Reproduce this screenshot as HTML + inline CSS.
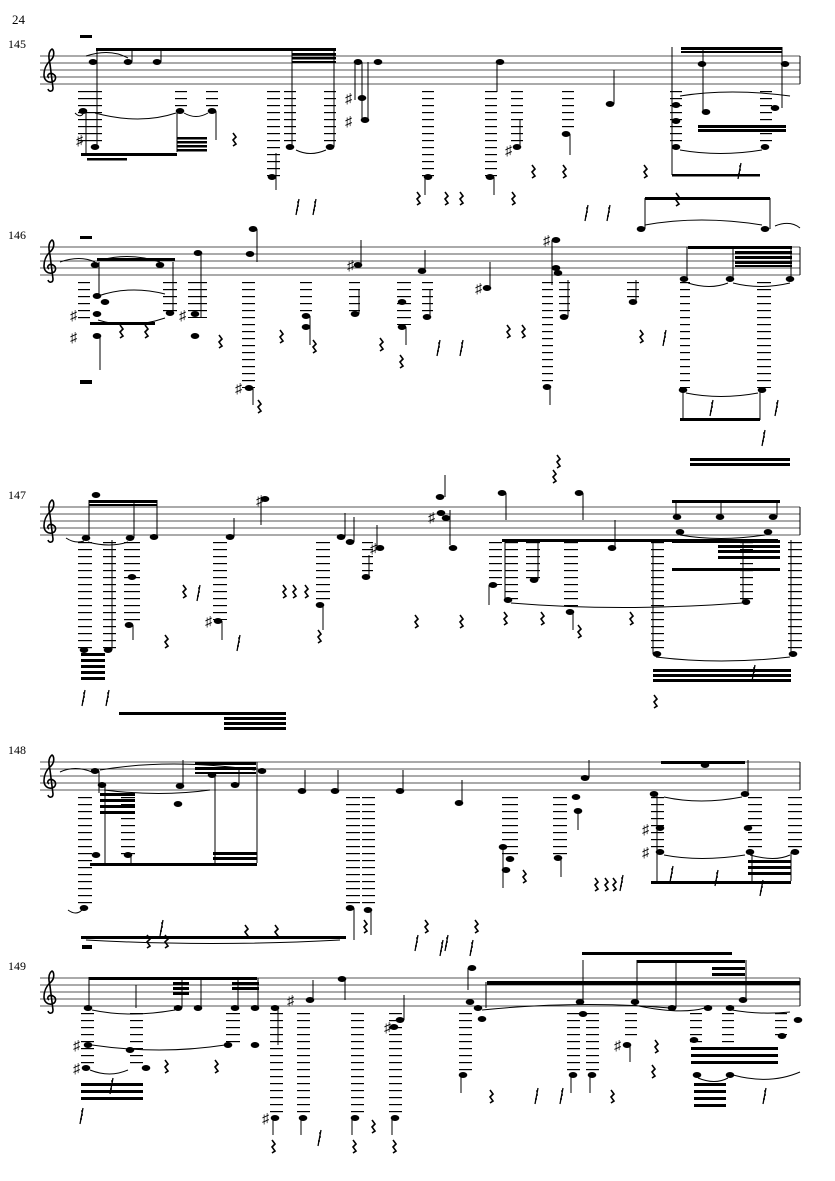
<!DOCTYPE html>
<html><head><meta charset="utf-8"><style>
html,body{margin:0;padding:0;background:#fff;}
svg{display:block;}
text{font-family:"Liberation Serif",serif;font-size:12px;fill:#000;}
</style></head><body>
<svg width="835" height="1181" viewBox="0 0 835 1181" xmlns="http://www.w3.org/2000/svg">
<defs>
<pattern id="L1" patternUnits="userSpaceOnUse" x="0" y="0" width="40" height="7"><rect x="0" y="0" width="40" height="1.2" fill="#000"/></pattern>
<pattern id="L2" patternUnits="userSpaceOnUse" x="0" y="2" width="40" height="7"><rect x="0" y="0" width="40" height="1.2" fill="#000"/></pattern>
<pattern id="L3" patternUnits="userSpaceOnUse" x="0" y="3" width="40" height="7"><rect x="0" y="0" width="40" height="1.2" fill="#000"/></pattern>
<pattern id="L4" patternUnits="userSpaceOnUse" x="0" y="6" width="40" height="7"><rect x="0" y="0" width="40" height="1.2" fill="#000"/></pattern>
<pattern id="L5" patternUnits="userSpaceOnUse" x="0" y="5" width="40" height="7"><rect x="0" y="0" width="40" height="1.2" fill="#000"/></pattern>
<g id="clef"><path d="M11 -6 C6 -2 4 4 4 9 C4 14 8 17 12 16 C16 15 17 10 13 8 C9 6 6 10 9 12 M11 -6 C15 -10 14 -16 12 -17 C9 -15 8 -10 10 -2 L13 22 C13 26 9 26 8 23" fill="none" stroke="#000" stroke-width="1.6"/></g>
<path id="r" d="M0 0 L3 4 L0 7 L3 11 L0 13" fill="none" stroke="#000" stroke-width="1.6"/>
<path id="r16" d="M3 0 L0 16 M1 3 h2 M1 7 h2 M0 11 h2" fill="none" stroke="#000" stroke-width="1.3"/>
</defs>

<text x="12" y="24" style="font-size:13px">24</text>

<!-- staves -->
<g stroke="#555" stroke-width="1">
<path d="M40 56H800M40 63H800M40 70H800M40 77H800M40 84H800"/>
<path d="M40 247H800M40 254H800M40 261H800M40 268H800M40 275H800"/>
<path d="M40 507H800M40 514H800M40 521H800M40 528H800M40 535H800"/>
<path d="M40 762H800M40 769H800M40 776H800M40 783H800M40 790H800"/>
<path d="M40 978H800M40 985H800M40 992H800M40 999H800M40 1006H800"/>
</g>
<g stroke="#000" stroke-width="1"><path d="M800 56V84M800 247V275M800 507V535M800 762V790M800 978V1006"/></g>
<text x="8" y="48">145</text><text x="8" y="239">146</text><text x="8" y="499">147</text><text x="8" y="754">148</text><text x="8" y="970">149</text>
<use href="#clef" x="40" y="66"/><use href="#clef" x="40" y="257"/><use href="#clef" x="40" y="517"/><use href="#clef" x="40" y="772"/><use href="#clef" x="40" y="988"/>

<!-- ===== SYSTEM 1 ===== -->
<g fill="url(#L1)">
<rect x="78" y="90" width="24" height="57"/><rect x="175" y="90" width="12" height="21"/><rect x="206" y="90" width="12" height="21"/>
<rect x="267" y="90" width="13" height="87"/><rect x="284" y="90" width="12" height="57"/><rect x="324" y="90" width="12" height="57"/>
<rect x="422" y="90" width="12" height="87"/><rect x="485" y="90" width="12" height="87"/><rect x="511" y="90" width="12" height="57"/>
<rect x="562" y="90" width="12" height="43"/><rect x="670" y="90" width="12" height="57"/><rect x="760" y="90" width="12" height="57"/>
</g>
<g fill="#000">
<rect x="80" y="35" width="12" height="3"/>
<rect x="96" y="48" width="240" height="3"/><rect x="292" y="53" width="44" height="2.5"/><rect x="292" y="57" width="44" height="2.5"/><rect x="292" y="61" width="44" height="2"/>
<rect x="81" y="153" width="96" height="3"/><rect x="87" y="158" width="40" height="2.5"/>
<rect x="177" y="137" width="30" height="2.5"/><rect x="177" y="141" width="30" height="2.5"/><rect x="177" y="145" width="30" height="2.5"/><rect x="177" y="149" width="30" height="2.5"/>
<rect x="681" y="47" width="101" height="3"/><rect x="681" y="51" width="101" height="2"/>
<rect x="698" y="125" width="88" height="3"/><rect x="698" y="129" width="88" height="3"/>
<rect x="672" y="174" width="88" height="2.5"/><rect x="645" y="197" width="125" height="3"/>
<ellipse cx="93" cy="62" rx="4.3" ry="3"/><ellipse cx="128" cy="62" rx="4.3" ry="3"/><ellipse cx="157" cy="62" rx="4.3" ry="3"/>
<ellipse cx="83" cy="111" rx="4.3" ry="3"/><ellipse cx="95" cy="147" rx="4.3" ry="3"/><ellipse cx="180" cy="111" rx="4.3" ry="3"/><ellipse cx="212" cy="111" rx="4.3" ry="3"/>
<ellipse cx="272" cy="177" rx="4.3" ry="3"/><ellipse cx="290" cy="147" rx="4.3" ry="3"/><ellipse cx="330" cy="147" rx="4.3" ry="3"/>
<ellipse cx="358" cy="62" rx="4.3" ry="3"/><ellipse cx="378" cy="62" rx="4.3" ry="3"/><ellipse cx="362" cy="98" rx="4.3" ry="3"/><ellipse cx="365" cy="120" rx="4.3" ry="3"/>
<ellipse cx="428" cy="177" rx="4.3" ry="3"/><ellipse cx="490" cy="177" rx="4.3" ry="3"/><ellipse cx="500" cy="62" rx="4.3" ry="3"/>
<ellipse cx="517" cy="147" rx="4.3" ry="3"/><ellipse cx="566" cy="134" rx="4.3" ry="3"/><ellipse cx="610" cy="104" rx="4.3" ry="3"/>
<ellipse cx="676" cy="105" rx="4.3" ry="3"/><ellipse cx="676" cy="121" rx="4.3" ry="3"/><ellipse cx="676" cy="147" rx="4.3" ry="3"/>
<ellipse cx="702" cy="64" rx="4.3" ry="3"/><ellipse cx="706" cy="112" rx="4.3" ry="3"/><ellipse cx="775" cy="108" rx="4.3" ry="3"/><ellipse cx="785" cy="64" rx="4.3" ry="3"/>
<ellipse cx="765" cy="147" rx="4.3" ry="3"/><ellipse cx="641" cy="229" rx="4.3" ry="3"/><ellipse cx="765" cy="229" rx="4.3" ry="3"/>
</g>
<g stroke="#000" stroke-width="1" fill="none">
<path d="M97 50V147M132 50V62M161 50V62M177 111V152M216 111V140M276 153V190M86 111V155"/>
<path d="M292 50V147M334 50V147M355 62V100M362 62V120M368 62V120M425 177V195M494 177V195M497 62V92"/>
<path d="M520 147V120M570 134V155M614 104V70M672 47V175M703 47V112M782 47V108M645 198V229M770 198V229"/>
<path d="M86 56Q110 48 128 58M75 113Q80 118 83 114M95 113Q140 125 176 113M184 113Q196 120 208 113M296 150Q310 157 326 150M680 96Q730 88 790 96M680 150Q720 157 762 150M645 225Q700 215 762 225M800 228Q790 220 775 226"/>
</g>
<g><use href="#r" x="233" y="133"/><use href="#r" x="417" y="192"/><use href="#r" x="445" y="192"/><use href="#r" x="460" y="192"/><use href="#r" x="512" y="192"/><use href="#r" x="532" y="165"/><use href="#r" x="563" y="165"/><use href="#r" x="644" y="165"/><use href="#r" x="676" y="193"/>
<use href="#r16" x="296" y="199"/><use href="#r16" x="313" y="199"/><use href="#r16" x="585" y="205"/><use href="#r16" x="607" y="205"/><use href="#r16" x="738" y="163"/></g>
<text x="76" y="145" style="font-size:14px">♯</text><text x="345" y="103" style="font-size:14px">♯</text><text x="345" y="126" style="font-size:14px">♯</text><text x="505" y="155" style="font-size:14px">♯</text>

<!-- ===== SYSTEM 2 ===== -->
<g fill="url(#L2)">
<rect x="78" y="280" width="12" height="43"/><rect x="163" y="280" width="14" height="33"/><rect x="188" y="280" width="19" height="38"/>
<rect x="242" y="280" width="13" height="108"/><rect x="300" y="280" width="12" height="37"/><rect x="349" y="280" width="11" height="34"/>
<rect x="397" y="280" width="14" height="45"/><rect x="422" y="280" width="11" height="37"/><rect x="542" y="280" width="11" height="107"/>
<rect x="559" y="280" width="11" height="37"/><rect x="627" y="280" width="12" height="22"/><rect x="680" y="280" width="10" height="108"/><rect x="757" y="280" width="14" height="108"/>
</g>
<g fill="#000">
<rect x="80" y="236" width="12" height="3"/><rect x="80" y="380" width="12" height="4"/>
<rect x="97" y="258" width="78" height="3"/><rect x="90" y="322" width="65" height="3"/>
<rect x="688" y="246" width="104" height="3"/><rect x="735" y="251" width="57" height="3"/><rect x="735" y="256" width="57" height="3"/><rect x="735" y="261" width="57" height="3"/><rect x="735" y="265" width="57" height="2"/>
<rect x="680" y="418" width="80" height="3"/>
<rect x="690" y="458" width="100" height="3"/><rect x="690" y="463" width="100" height="3"/>
<ellipse cx="97" cy="296" rx="4.3" ry="3"/><ellipse cx="105" cy="302" rx="4.3" ry="3"/><ellipse cx="97" cy="314" rx="4.3" ry="3"/><ellipse cx="97" cy="336" rx="4.3" ry="3"/><ellipse cx="95" cy="265" rx="4.3" ry="3"/>
<ellipse cx="160" cy="265" rx="4.3" ry="3"/><ellipse cx="170" cy="313" rx="4.3" ry="3"/><ellipse cx="195" cy="314" rx="4.3" ry="3"/><ellipse cx="195" cy="336" rx="4.3" ry="3"/><ellipse cx="198" cy="253" rx="4.3" ry="3"/>
<ellipse cx="250" cy="254" rx="4.3" ry="3"/><ellipse cx="253" cy="229" rx="4.3" ry="3"/><ellipse cx="249" cy="388" rx="4.3" ry="3"/>
<ellipse cx="306" cy="316" rx="4.3" ry="3"/><ellipse cx="306" cy="327" rx="4.3" ry="3"/><ellipse cx="358" cy="265" rx="4.3" ry="3"/><ellipse cx="355" cy="314" rx="4.3" ry="3"/>
<ellipse cx="402" cy="302" rx="4.3" ry="3"/><ellipse cx="402" cy="327" rx="4.3" ry="3"/><ellipse cx="422" cy="271" rx="4.3" ry="3"/><ellipse cx="427" cy="317" rx="4.3" ry="3"/>
<ellipse cx="487" cy="288" rx="4.3" ry="3"/><ellipse cx="547" cy="387" rx="4.3" ry="3"/><ellipse cx="556" cy="240" rx="4.3" ry="3"/><ellipse cx="556" cy="268" rx="4.3" ry="3"/><ellipse cx="558" cy="273" rx="4.3" ry="3"/><ellipse cx="564" cy="317" rx="4.3" ry="3"/>
<ellipse cx="633" cy="302" rx="4.3" ry="3"/><ellipse cx="684" cy="279" rx="4.3" ry="3"/><ellipse cx="730" cy="279" rx="4.3" ry="3"/><ellipse cx="790" cy="279" rx="4.3" ry="3"/>
<ellipse cx="683" cy="390" rx="4.3" ry="3"/><ellipse cx="762" cy="390" rx="4.3" ry="3"/>
</g>
<g stroke="#000" stroke-width="1" fill="none">
<path d="M99 296V262M173 262V313M201 254V318M257 229V262M253 388V405M310 316V345M361 265V240M359 314V290M406 327V345M425 271V250M430 317V290"/>
<path d="M490 288V262M550 387V405M552 240V285M568 317V280M636 302V280M687 247V279M733 247V279M791 247V279M683 390V420M760 390V420M100 336V370"/>
<path d="M60 262Q80 255 95 262M101 260Q130 252 160 262M98 296Q130 285 165 294M98 320Q130 330 165 318M688 283Q710 290 728 283M733 283Q760 290 790 283M686 393Q720 400 758 393"/>
</g>
<g><use href="#r" x="120" y="325"/><use href="#r" x="145" y="325"/><use href="#r" x="219" y="335"/><use href="#r" x="280" y="330"/><use href="#r" x="313" y="340"/><use href="#r" x="380" y="338"/><use href="#r" x="400" y="355"/><use href="#r" x="507" y="325"/><use href="#r" x="522" y="325"/><use href="#r" x="640" y="330"/><use href="#r" x="258" y="400"/><use href="#r" x="557" y="455"/>
<use href="#r16" x="437" y="340"/><use href="#r16" x="460" y="340"/><use href="#r16" x="663" y="330"/><use href="#r16" x="710" y="400"/><use href="#r16" x="775" y="400"/><use href="#r16" x="762" y="430"/></g>
<text x="70" y="320" style="font-size:14px">♯</text><text x="70" y="342" style="font-size:14px">♯</text><text x="179" y="320" style="font-size:14px">♯</text><text x="235" y="393" style="font-size:14px">♯</text><text x="347" y="270" style="font-size:14px">♯</text><text x="475" y="293" style="font-size:14px">♯</text><text x="543" y="245" style="font-size:14px">♯</text>

<!-- ===== SYSTEM 3 ===== -->
<g fill="url(#L3)">
<rect x="78" y="542" width="14" height="108"/><rect x="103" y="542" width="13" height="108"/><rect x="124" y="542" width="16" height="83"/>
<rect x="213" y="542" width="14" height="78"/><rect x="316" y="542" width="14" height="63"/><rect x="362" y="542" width="11" height="35"/>
<rect x="489" y="542" width="13" height="43"/><rect x="505" y="542" width="13" height="58"/><rect x="526" y="542" width="14" height="38"/>
<rect x="564" y="542" width="14" height="68"/><rect x="651" y="542" width="13" height="111"/><rect x="740" y="542" width="13" height="60"/><rect x="788" y="542" width="14" height="111"/>
</g>
<g fill="#000">
<rect x="89" y="500" width="68" height="3"/><rect x="89" y="504" width="68" height="2"/>
<rect x="81" y="653" width="24" height="3"/><rect x="81" y="659" width="24" height="3"/><rect x="81" y="665" width="24" height="3"/><rect x="81" y="671" width="24" height="3"/><rect x="81" y="677" width="24" height="3"/>
<rect x="119" y="712" width="167" height="3"/><rect x="224" y="717" width="62" height="3"/><rect x="224" y="722" width="62" height="3"/><rect x="224" y="727" width="62" height="3"/>
<rect x="502" y="539" width="276" height="3"/>
<rect x="672" y="500" width="108" height="3"/><rect x="672" y="540" width="108" height="3"/><rect x="718" y="545" width="62" height="3"/><rect x="718" y="550" width="62" height="3"/><rect x="718" y="556" width="62" height="3"/><rect x="672" y="568" width="108" height="3"/>
<rect x="653" y="669" width="138" height="3"/><rect x="653" y="674" width="138" height="3"/><rect x="653" y="679" width="138" height="3"/>
<ellipse cx="86" cy="538" rx="4.3" ry="3"/><ellipse cx="130" cy="538" rx="4.3" ry="3"/><ellipse cx="154" cy="537" rx="4.3" ry="3"/><ellipse cx="96" cy="495" rx="4.3" ry="3"/>
<ellipse cx="84" cy="650" rx="4.3" ry="3"/><ellipse cx="108" cy="650" rx="4.3" ry="3"/><ellipse cx="132" cy="577" rx="4.3" ry="3"/><ellipse cx="129" cy="625" rx="4.3" ry="3"/>
<ellipse cx="230" cy="537" rx="4.3" ry="3"/><ellipse cx="265" cy="499" rx="4.3" ry="3"/><ellipse cx="218" cy="621" rx="4.3" ry="3"/>
<ellipse cx="341" cy="537" rx="4.3" ry="3"/><ellipse cx="350" cy="542" rx="4.3" ry="3"/><ellipse cx="320" cy="605" rx="4.3" ry="3"/><ellipse cx="380" cy="548" rx="4.3" ry="3"/><ellipse cx="366" cy="577" rx="4.3" ry="3"/>
<ellipse cx="440" cy="497" rx="4.3" ry="3"/><ellipse cx="441" cy="513" rx="4.3" ry="3"/><ellipse cx="446" cy="518" rx="4.3" ry="3"/><ellipse cx="453" cy="548" rx="4.3" ry="3"/>
<ellipse cx="502" cy="493" rx="4.3" ry="3"/><ellipse cx="579" cy="493" rx="4.3" ry="3"/><ellipse cx="493" cy="585" rx="4.3" ry="3"/><ellipse cx="508" cy="600" rx="4.3" ry="3"/><ellipse cx="534" cy="580" rx="4.3" ry="3"/>
<ellipse cx="570" cy="612" rx="4.3" ry="3"/><ellipse cx="612" cy="548" rx="4.3" ry="3"/><ellipse cx="657" cy="654" rx="4.3" ry="3"/>
<ellipse cx="677" cy="517" rx="4.3" ry="3"/><ellipse cx="680" cy="532" rx="4.3" ry="3"/><ellipse cx="720" cy="517" rx="4.3" ry="3"/><ellipse cx="773" cy="517" rx="4.3" ry="3"/><ellipse cx="768" cy="532" rx="4.3" ry="3"/>
<ellipse cx="746" cy="602" rx="4.3" ry="3"/><ellipse cx="793" cy="654" rx="4.3" ry="3"/>
</g>
<g stroke="#000" stroke-width="1" fill="none">
<path d="M89 538V500M134 538V500M157 537V500M112 650V540M133 625V640M234 537V518M261 499V525M222 621V640"/>
<path d="M345 537V513M354 542V517M323 605V630M377 548V525M369 577V555M450 510V545M445 497V475"/>
<path d="M506 493V520M583 493V520M489 585V605M505 600V540M538 580V540M573 612V630M615 548V520M653 654V540M676 517V500M721 517V500M777 517V500M743 602V540M791 654V540"/>
<path d="M66 538Q75 544 84 541M88 542Q110 548 128 542M656 657Q720 665 790 657M680 535Q720 542 765 535M511 603Q620 612 742 603"/>
</g>
<g><use href="#r" x="183" y="585"/><use href="#r" x="165" y="635"/><use href="#r" x="283" y="585"/><use href="#r" x="293" y="585"/><use href="#r" x="305" y="585"/><use href="#r" x="318" y="630"/><use href="#r" x="415" y="615"/><use href="#r" x="460" y="615"/><use href="#r" x="504" y="612"/><use href="#r" x="541" y="612"/><use href="#r" x="578" y="625"/><use href="#r" x="630" y="612"/><use href="#r" x="654" y="695"/><use href="#r" x="553" y="470"/>
<use href="#r16" x="197" y="585"/><use href="#r16" x="237" y="635"/><use href="#r16" x="82" y="690"/><use href="#r16" x="106" y="690"/><use href="#r16" x="752" y="665"/></g>
<text x="205" y="626" style="font-size:14px">♯</text><text x="370" y="553" style="font-size:14px">♯</text><text x="428" y="522" style="font-size:14px">♯</text><text x="256" y="505" style="font-size:14px">♯</text>

<!-- ===== SYSTEM 4 ===== -->
<g fill="url(#L4)">
<rect x="78" y="795" width="14" height="113"/><rect x="121" y="795" width="14" height="60"/><rect x="346" y="795" width="14" height="113"/><rect x="362" y="795" width="13" height="113"/>
<rect x="502" y="795" width="16" height="65"/><rect x="553" y="795" width="14" height="62"/><rect x="651" y="795" width="13" height="58"/><rect x="748" y="795" width="14" height="58"/><rect x="788" y="795" width="14" height="58"/>
</g>
<g fill="#000">
<rect x="100" y="793" width="35" height="3"/><rect x="100" y="799" width="35" height="3"/><rect x="100" y="805" width="35" height="3"/><rect x="100" y="811" width="35" height="3"/>
<rect x="195" y="762" width="61" height="3"/><rect x="195" y="767" width="61" height="3"/><rect x="195" y="772" width="61" height="2"/>
<rect x="90" y="863" width="167" height="3"/><rect x="213" y="852" width="44" height="3"/><rect x="213" y="857" width="44" height="3"/>
<rect x="81" y="936" width="265" height="3"/><rect x="82" y="945" width="10" height="4"/>
<rect x="661" y="761" width="84" height="3"/><rect x="748" y="860" width="43" height="3"/><rect x="748" y="866" width="43" height="3"/><rect x="748" y="872" width="43" height="3"/><rect x="651" y="881" width="140" height="3"/>
<rect x="582" y="952" width="150" height="3"/>
<ellipse cx="95" cy="771" rx="4.3" ry="3"/><ellipse cx="102" cy="785" rx="4.3" ry="3"/><ellipse cx="180" cy="786" rx="4.3" ry="3"/><ellipse cx="212" cy="775" rx="4.3" ry="3"/><ellipse cx="235" cy="785" rx="4.3" ry="3"/><ellipse cx="262" cy="771" rx="4.3" ry="3"/>
<ellipse cx="84" cy="908" rx="4.3" ry="3"/><ellipse cx="96" cy="855" rx="4.3" ry="3"/><ellipse cx="128" cy="855" rx="4.3" ry="3"/><ellipse cx="178" cy="804" rx="4.3" ry="3"/>
<ellipse cx="302" cy="791" rx="4.3" ry="3"/><ellipse cx="335" cy="791" rx="4.3" ry="3"/><ellipse cx="400" cy="791" rx="4.3" ry="3"/><ellipse cx="459" cy="803" rx="4.3" ry="3"/>
<ellipse cx="350" cy="908" rx="4.3" ry="3"/><ellipse cx="368" cy="910" rx="4.3" ry="3"/><ellipse cx="503" cy="847" rx="4.3" ry="3"/><ellipse cx="510" cy="859" rx="4.3" ry="3"/><ellipse cx="506" cy="870" rx="4.3" ry="3"/>
<ellipse cx="558" cy="858" rx="4.3" ry="3"/><ellipse cx="585" cy="778" rx="4.3" ry="3"/><ellipse cx="576" cy="797" rx="4.3" ry="3"/><ellipse cx="578" cy="811" rx="4.3" ry="3"/>
<ellipse cx="654" cy="794" rx="4.3" ry="3"/><ellipse cx="660" cy="828" rx="4.3" ry="3"/><ellipse cx="660" cy="852" rx="4.3" ry="3"/><ellipse cx="745" cy="794" rx="4.3" ry="3"/><ellipse cx="748" cy="828" rx="4.3" ry="3"/><ellipse cx="750" cy="852" rx="4.3" ry="3"/><ellipse cx="795" cy="852" rx="4.3" ry="3"/><ellipse cx="705" cy="765" rx="4.3" ry="3"/>
</g>
<g stroke="#000" stroke-width="1" fill="none">
<path d="M99 771V793M105 785V865M131 855V865M183 786V760M215 775V865M239 785V770M257 762V863M305 791V770M338 791V770M403 791V770M462 803V780"/>
<path d="M503 847V888M561 858V877M354 908V940M371 910V935M589 778V760M578 811V830M657 794V881M748 794V760M752 852V881M791 852V881"/>
<path d="M60 772Q75 765 92 772M100 770Q170 758 255 770M104 790Q160 797 210 790M68 910Q76 916 82 910M86 940Q210 947 340 940M664 797Q700 805 742 797M664 855Q700 862 745 855M750 855Q775 862 790 855"/>
</g>
<g><use href="#r" x="147" y="935"/><use href="#r" x="165" y="935"/><use href="#r" x="245" y="925"/><use href="#r" x="275" y="925"/><use href="#r" x="364" y="920"/><use href="#r" x="425" y="920"/><use href="#r" x="475" y="920"/><use href="#r" x="523" y="870"/><use href="#r" x="595" y="878"/><use href="#r" x="605" y="878"/><use href="#r" x="613" y="878"/>
<use href="#r16" x="160" y="920"/><use href="#r16" x="415" y="935"/><use href="#r16" x="445" y="935"/><use href="#r16" x="620" y="875"/><use href="#r16" x="715" y="870"/><use href="#r16" x="760" y="880"/><use href="#r16" x="670" y="866"/></g>
<text x="642" y="834" style="font-size:14px">♯</text><text x="642" y="857" style="font-size:14px">♯</text>

<!-- ===== SYSTEM 5 ===== -->
<g fill="url(#L5)">
<rect x="81" y="1010" width="13" height="58"/><rect x="130" y="1010" width="13" height="58"/><rect x="226" y="1010" width="14" height="35"/>
<rect x="270" y="1010" width="13" height="108"/><rect x="297" y="1010" width="13" height="108"/><rect x="351" y="1010" width="13" height="108"/><rect x="389" y="1010" width="13" height="108"/>
<rect x="459" y="1010" width="13" height="65"/><rect x="567" y="1010" width="13" height="65"/><rect x="586" y="1010" width="13" height="65"/><rect x="625" y="1010" width="12" height="30"/>
<rect x="690" y="1010" width="12" height="35"/><rect x="722" y="1010" width="12" height="35"/><rect x="775" y="1010" width="12" height="30"/>
</g>
<g fill="#000">
<rect x="89" y="977" width="168" height="3"/><rect x="173" y="982" width="16" height="3"/><rect x="173" y="987" width="16" height="3"/><rect x="173" y="992" width="16" height="3"/><rect x="232" y="982" width="27" height="3"/><rect x="232" y="987" width="27" height="3"/>
<rect x="81" y="1083" width="62" height="3"/><rect x="81" y="1090" width="62" height="3"/><rect x="81" y="1097" width="62" height="3"/>
<rect x="487" y="981" width="313" height="4"/><rect x="637" y="960" width="108" height="3"/><rect x="712" y="967" width="33" height="3"/><rect x="712" y="973" width="33" height="3"/>
<rect x="691" y="1047" width="87" height="3"/><rect x="691" y="1054" width="87" height="3"/><rect x="691" y="1061" width="87" height="3"/>
<rect x="694" y="1083" width="32" height="3"/><rect x="694" y="1090" width="32" height="3"/><rect x="694" y="1097" width="32" height="3"/><rect x="694" y="1104" width="32" height="3"/>
<ellipse cx="88" cy="1008" rx="4.3" ry="3"/><ellipse cx="178" cy="1008" rx="4.3" ry="3"/><ellipse cx="198" cy="1008" rx="4.3" ry="3"/><ellipse cx="235" cy="1008" rx="4.3" ry="3"/><ellipse cx="255" cy="1008" rx="4.3" ry="3"/>
<ellipse cx="275" cy="1008" rx="4.3" ry="3"/><ellipse cx="310" cy="1000" rx="4.3" ry="3"/><ellipse cx="342" cy="979" rx="4.3" ry="3"/><ellipse cx="400" cy="1020" rx="4.3" ry="3"/><ellipse cx="394" cy="1027" rx="4.3" ry="3"/>
<ellipse cx="88" cy="1045" rx="4.3" ry="3"/><ellipse cx="86" cy="1068" rx="4.3" ry="3"/><ellipse cx="130" cy="1050" rx="4.3" ry="3"/><ellipse cx="146" cy="1068" rx="4.3" ry="3"/><ellipse cx="228" cy="1045" rx="4.3" ry="3"/><ellipse cx="255" cy="1045" rx="4.3" ry="3"/>
<ellipse cx="275" cy="1118" rx="4.3" ry="3"/><ellipse cx="303" cy="1118" rx="4.3" ry="3"/><ellipse cx="355" cy="1118" rx="4.3" ry="3"/><ellipse cx="395" cy="1118" rx="4.3" ry="3"/>
<ellipse cx="463" cy="1075" rx="4.3" ry="3"/><ellipse cx="573" cy="1075" rx="4.3" ry="3"/><ellipse cx="592" cy="1075" rx="4.3" ry="3"/>
<ellipse cx="478" cy="1008" rx="4.3" ry="3"/><ellipse cx="482" cy="1019" rx="4.3" ry="3"/><ellipse cx="470" cy="1002" rx="4.3" ry="3"/><ellipse cx="472" cy="968" rx="4.3" ry="3"/>
<ellipse cx="580" cy="1002" rx="4.3" ry="3"/><ellipse cx="583" cy="1014" rx="4.3" ry="3"/><ellipse cx="635" cy="1002" rx="4.3" ry="3"/><ellipse cx="672" cy="1008" rx="4.3" ry="3"/><ellipse cx="708" cy="1008" rx="4.3" ry="3"/><ellipse cx="730" cy="1008" rx="4.3" ry="3"/><ellipse cx="743" cy="1000" rx="4.3" ry="3"/><ellipse cx="798" cy="1020" rx="4.3" ry="3"/>
<ellipse cx="627" cy="1045" rx="4.3" ry="3"/><ellipse cx="694" cy="1040" rx="4.3" ry="3"/><ellipse cx="782" cy="1036" rx="4.3" ry="3"/><ellipse cx="697" cy="1075" rx="4.3" ry="3"/><ellipse cx="730" cy="1075" rx="4.3" ry="3"/>
</g>
<g stroke="#000" stroke-width="1" fill="none">
<path d="M89 1008V977M136 1008V985M182 1008V978M201 1008V978M238 1008V978M258 1008V978M278 1008V1045M313 1000V980M345 979V1000M404 1020V995"/>
<path d="M273 1118V1135M301 1118V1135M352 1118V1135M392 1118V1135M461 1075V1093M571 1075V1093M590 1075V1093M468 968V990M486 1008V982M583 1002V960M637 1002V960M676 1008V960M746 1000V960M630 1045V1062"/>
<path d="M92 1010Q130 1018 175 1010M92 1045Q160 1055 225 1045M90 1070Q110 1078 128 1070M482 1010Q580 1000 670 1008M634 1005Q680 1015 705 1008M732 1010Q760 1015 790 1012M698 1078Q715 1085 728 1078M733 1075Q770 1085 800 1072"/>
</g>
<g><use href="#r" x="165" y="1060"/><use href="#r" x="215" y="1060"/><use href="#r" x="272" y="1140"/><use href="#r" x="353" y="1140"/><use href="#r" x="393" y="1140"/><use href="#r" x="490" y="1090"/><use href="#r" x="611" y="1090"/><use href="#r" x="655" y="1040"/><use href="#r" x="652" y="1065"/><use href="#r" x="372" y="1120"/>
<use href="#r16" x="110" y="1078"/><use href="#r16" x="80" y="1108"/><use href="#r16" x="318" y="1130"/><use href="#r16" x="535" y="1088"/><use href="#r16" x="560" y="1088"/><use href="#r16" x="763" y="1088"/><use href="#r16" x="440" y="940"/><use href="#r16" x="470" y="940"/></g>
<text x="73" y="1050" style="font-size:14px">♯</text><text x="73" y="1073" style="font-size:14px">♯</text><text x="262" y="1123" style="font-size:14px">♯</text><text x="287" y="1005" style="font-size:14px">♯</text><text x="384" y="1032" style="font-size:14px">♯</text><text x="614" y="1050" style="font-size:14px">♯</text>
</svg>
</body></html>
